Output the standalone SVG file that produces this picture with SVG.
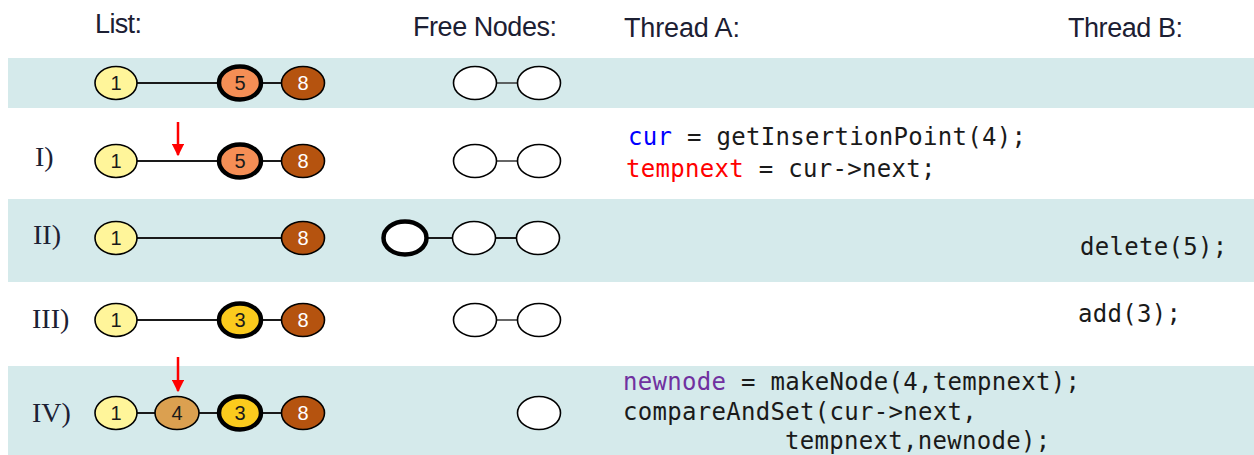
<svg xmlns="http://www.w3.org/2000/svg" width="1254" height="455" viewBox="0 0 1254 455">
<defs>
<style>
.band{fill:#D5EAEB}
.hdr{font-family:"Liberation Sans",Arial,sans-serif;font-size:27px;fill:#1c2033}
.rom{font-family:"Liberation Serif","Times New Roman",serif;font-size:28px;fill:#1c2033}
.code{font-family:"DejaVu Sans Mono",monospace;font-size:24px;fill:#1a1a1a;letter-spacing:0.3px}
.n{stroke:#000;stroke-width:1.6}
.thick{stroke:#000;stroke-width:4.5}
.lbl{font-family:"Liberation Sans",Arial,sans-serif;font-size:20px;text-anchor:middle;fill:#1a1a1a}
.wl{fill:#fff}
.link{stroke:#1a1a1a;stroke-width:2}
.flink{stroke:#333;stroke-width:1.5}
.arr{stroke:#ff0000;stroke-width:2.5}
.c1{fill:#FFF59A}.c5{fill:#F58E55}.c8{fill:#B5530F}.c3{fill:#FBCB1D}.c4{fill:#DBA050}.cf{fill:#fff}
</style>
<marker id="ah" viewBox="0 0 10 10" refX="9" refY="5" markerWidth="5" markerHeight="5" orient="auto" markerUnits="strokeWidth">
<path d="M0,0 L10,5 L0,10 z" fill="#ff0000"/>
</marker>
</defs>
<rect width="1254" height="455" fill="#fff"/>
<rect class="band" x="8" y="58" width="1246" height="50"/>
<rect class="band" x="8" y="199" width="1246" height="83"/>
<rect class="band" x="8" y="366" width="1246" height="89"/>

<g id="headers">
<text class="hdr" x="95" y="33" textLength="47">List:</text>
<text class="hdr" x="413" y="36" textLength="144">Free Nodes:</text>
<text class="hdr" x="624" y="37" textLength="116">Thread A:</text>
<text class="hdr" x="1068" y="37" textLength="115">Thread B:</text>
</g>
<g id="rowlabels">
<text class="rom" x="35" y="166">I)</text>
<text class="rom" x="33" y="244">II)</text>
<text class="rom" x="32" y="328">III)</text>
<text class="rom" x="32" y="422">IV)</text>
</g>

<g id="connectors">
<line class="link" x1="116" y1="83" x2="303" y2="83"/>
<line class="flink" x1="475" y1="83" x2="539" y2="83"/>
<line class="link" x1="116" y1="161" x2="303" y2="161"/>
<line class="flink" x1="475" y1="161" x2="539" y2="161"/>
<line class="link" x1="116" y1="238" x2="303" y2="238"/>
<line class="link" x1="405" y1="238" x2="538" y2="238"/>
<line class="link" x1="116" y1="320" x2="303" y2="320"/>
<line class="flink" x1="475" y1="320" x2="539" y2="320"/>
<line class="link" x1="116" y1="413" x2="303" y2="413"/>
<line class="arr" x1="178" y1="122" x2="178" y2="155" marker-end="url(#ah)"/>
<line class="arr" x1="178" y1="357" x2="178" y2="391" marker-end="url(#ah)"/>
</g>

<g id="row0">
<g id="r0n1"><ellipse class="n c1" cx="116" cy="83" rx="21" ry="16.5"/><text class="lbl" x="116" y="90">1</text></g>
<g id="r0n5"><ellipse class="thick c5" cx="240" cy="83" rx="21" ry="16.5"/><text class="lbl" x="240" y="90">5</text></g>
<g id="r0n8"><ellipse class="n c8" cx="303" cy="83" rx="21.5" ry="16.5"/><text class="lbl wl" x="303" y="90">8</text></g>
<g id="r0f1"><ellipse class="n cf" cx="475" cy="83" rx="21.5" ry="16.5"/></g>
<g id="r0f2"><ellipse class="n cf" cx="539" cy="83" rx="21.5" ry="16.5"/></g>
</g>
<g id="row1">
<g id="r1n1"><ellipse class="n c1" cx="116" cy="161" rx="21" ry="16.5"/><text class="lbl" x="116" y="168">1</text></g>
<g id="r1n5"><ellipse class="thick c5" cx="240" cy="161" rx="21" ry="16.5"/><text class="lbl" x="240" y="168">5</text></g>
<g id="r1n8"><ellipse class="n c8" cx="303" cy="161" rx="21.5" ry="16.5"/><text class="lbl wl" x="303" y="168">8</text></g>
<g id="r1f1"><ellipse class="n cf" cx="475" cy="161" rx="21.5" ry="16.5"/></g>
<g id="r1f2"><ellipse class="n cf" cx="539" cy="161" rx="21.5" ry="16.5"/></g>
</g>
<g id="row2">
<g id="r2n1"><ellipse class="n c1" cx="116" cy="238" rx="21" ry="16.5"/><text class="lbl" x="116" y="245">1</text></g>
<g id="r2n8"><ellipse class="n c8" cx="303" cy="238" rx="21.5" ry="16.5"/><text class="lbl wl" x="303" y="245">8</text></g>
<g id="r2f0"><ellipse class="thick cf" cx="405" cy="238" rx="21.5" ry="16.5"/></g>
<g id="r2f1"><ellipse class="n cf" cx="474" cy="238" rx="21.5" ry="16.5"/></g>
<g id="r2f2"><ellipse class="n cf" cx="538" cy="238" rx="21.5" ry="16.5"/></g>
</g>
<g id="row3">
<g id="r3n1"><ellipse class="n c1" cx="116" cy="320" rx="21" ry="16.5"/><text class="lbl" x="116" y="327">1</text></g>
<g id="r3n3"><ellipse class="thick c3" cx="240" cy="320" rx="21" ry="16.5"/><text class="lbl" x="240" y="327">3</text></g>
<g id="r3n8"><ellipse class="n c8" cx="303" cy="320" rx="21.5" ry="16.5"/><text class="lbl wl" x="303" y="327">8</text></g>
<g id="r3f1"><ellipse class="n cf" cx="475" cy="320" rx="21.5" ry="16.5"/></g>
<g id="r3f2"><ellipse class="n cf" cx="539" cy="320" rx="21.5" ry="16.5"/></g>
</g>
<g id="row4">
<g id="r4n1"><ellipse class="n c1" cx="116" cy="413" rx="21" ry="16.5"/><text class="lbl" x="116" y="420">1</text></g>
<g id="r4n4"><ellipse class="n c4" cx="177" cy="413" rx="22" ry="16.5"/><text class="lbl" x="177" y="420">4</text></g>
<g id="r4n3"><ellipse class="thick c3" cx="240" cy="413" rx="21" ry="16.5"/><text class="lbl" x="240" y="420">3</text></g>
<g id="r4n8"><ellipse class="n c8" cx="303" cy="413" rx="21.5" ry="16.5"/><text class="lbl wl" x="303" y="420">8</text></g>
<g id="r4f2"><ellipse class="n cf" cx="539" cy="413" rx="21.5" ry="16.5"/></g>
</g>

<g id="code">
<text class="code" x="628" y="145"><tspan fill="#0000ff">cur</tspan> = getInsertionPoint(4);</text>
<text class="code" x="626" y="177"><tspan fill="#ff0000">tempnext</tspan> = cur-&gt;next;</text>
<text class="code" x="1080" y="255">delete(5);</text>
<text class="code" x="1078" y="322">add(3);</text>
<text class="code" x="623" y="390"><tspan fill="#7030a0">newnode</tspan> = makeNode(4,tempnext);</text>
<text class="code" x="623" y="420">compareAndSet(cur-&gt;next,</text>
<text class="code" x="785" y="449">tempnext,newnode);</text>
</g>
</svg>
